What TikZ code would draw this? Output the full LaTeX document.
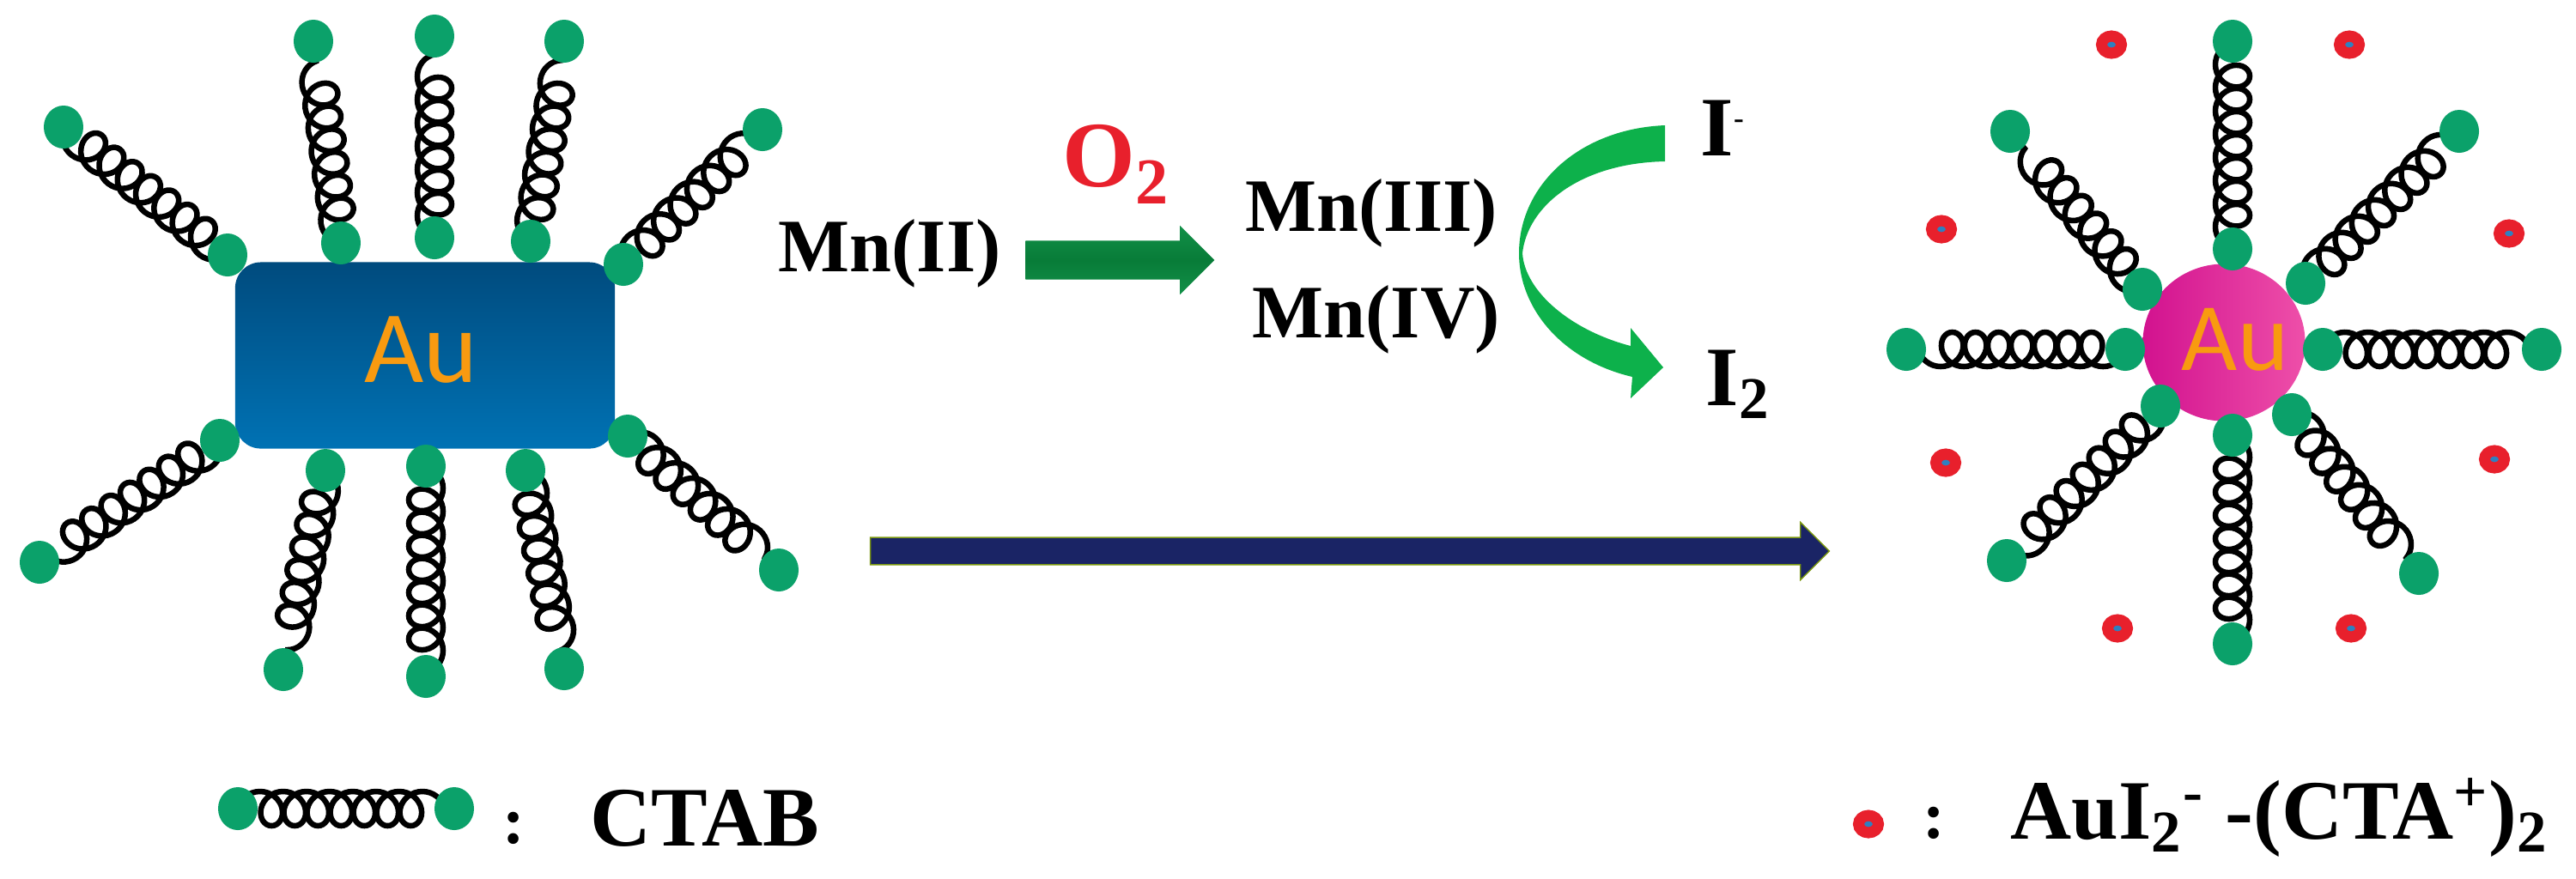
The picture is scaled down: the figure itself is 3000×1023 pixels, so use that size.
\documentclass[tikz,border=0pt]{standalone}
\usepackage{fontspec}
\usepackage{tikz}
\usetikzlibrary{backgrounds,decorations.pathmorphing,shapes.arrows,shapes.geometric}
\setmainfont{Liberation Serif}
\newfontfamily\aufont{Carlito}
\definecolor{headgreen}{HTML}{0BA16A}
\definecolor{rodtop}{HTML}{004B7E}
\definecolor{rodbottom}{HTML}{0072B4}
\definecolor{sphereleft}{HTML}{D2128F}
\definecolor{sphereright}{HTML}{EE4FA9}
\definecolor{ionred}{HTML}{E8202C}
\definecolor{ionblue}{HTML}{2F80C0}
\definecolor{autext}{HTML}{F89A10}
\definecolor{curvegreen}{HTML}{0DB14B}
\definecolor{mnedge}{HTML}{129048}
\definecolor{mncore}{HTML}{087C38}
\definecolor{navyarrow}{HTML}{1A2465}
\tikzset{
 head/.style = {ellipse, fill = headgreen, minimum width = 0.46cm, minimum height = 0.5cm, inner sep = 0pt},
 ion/.style = {ellipse, fill = ionblue, draw = ionred, line width = 0.13cm, minimum width = 0.23cm, minimum height = 0.2cm, inner sep = 0pt},
 tail/.style = {line width = 0.065cm, decorate, decoration = {coil, aspect = 0.95, segment length = 0.27cm, amplitude = 0.2cm}},
 chem/.style = {anchor = base west, inner sep = 0pt, font = \bfseries\fontsize{25}{30}\selectfont},
 bigchem/.style = {chem, font = \bfseries\fontsize{28}{34}\selectfont},
 aulabel/.style = {autext, inner sep = 0pt, font = \aufont\fontsize{34}{40}\selectfont}
}
\begin{document}
\begin{tikzpicture}[x=0.01cm, y=-0.01cm]
 \useasboundingbox (0,0) rectangle (3000,1023);
 % gold rod
 \node [rounded corners = 0.3cm, top color = rodtop, bottom color = rodbottom, minimum width = 4.42cm, minimum height = 2.17cm, inner sep = 0pt] (rod) at (495,414) {};
 \node [aulabel] (rodlabel) at (490,408) {Au};
 \node [head] (r1a) at (265,297) {};
 \node [head] (r1b) at (74,148) {};
 \node [head] (r2a) at (397,283) {};
 \node [head] (r2b) at (365,48) {};
 \node [head] (r3a) at (506,277) {};
 \node [head] (r3b) at (506,42) {};
 \node [head] (r4a) at (618,281) {};
 \node [head] (r4b) at (657,48) {};
 \node [head] (r5a) at (726,308) {};
 \node [head] (r5b) at (888,151) {};
 \node [head] (r6a) at (256,513) {};
 \node [head] (r6b) at (46,655) {};
 \node [head] (r7a) at (379,548) {};
 \node [head] (r7b) at (330,780) {};
 \node [head] (r8a) at (496,543) {};
 \node [head] (r8b) at (496,788) {};
 \node [head] (r9a) at (612,548) {};
 \node [head] (r9b) at (657,779) {};
 \node [head] (r10a) at (731,508) {};
 \node [head] (r10b) at (907,664) {};
 % gold sphere
 \node [ellipse, left color = sphereleft, right color = sphereright, minimum width = 1.89cm, minimum height = 1.83cm, inner sep = 0pt] (sphere) at (2590,399) {};
 \node [aulabel, font = \aufont\fontsize{32}{38}\selectfont] (spherelabel) at (2603,396) {Au};
 \node [head] (s1a) at (2600,290) {};
 \node [head] (s1b) at (2600,48) {};
 \node [head] (s2a) at (2495,337) {};
 \node [head] (s2b) at (2341,153) {};
 \node [head] (s3a) at (2685,330) {};
 \node [head] (s3b) at (2864,153) {};
 \node [head] (s4a) at (2475,407) {};
 \node [head] (s4b) at (2220,407) {};
 \node [head] (s5a) at (2705,407) {};
 \node [head] (s5b) at (2960,407) {};
 \node [head] (s6a) at (2516,473) {};
 \node [head] (s6b) at (2337,653) {};
 \node [head] (s7a) at (2600,507) {};
 \node [head] (s7b) at (2600,750) {};
 \node [head] (s8a) at (2669,483) {};
 \node [head] (s8b) at (2817,668) {};
 \node [ion] (i1) at (2459,52) {};
 \node [ion] (i2) at (2736,52) {};
 \node [ion] (i3) at (2261,267) {};
 \node [ion] (i4) at (2922,272) {};
 \node [ion] (i5) at (2266,539) {};
 \node [ion] (i6) at (2905,535) {};
 \node [ion] (i7) at (2466,732) {};
 \node [ion] (i8) at (2738,732) {};
 % reactions
 \node [chem] (mn2) at (906,316) {Mn(II)};
 \node [chem] (mn3) at (1450,269) {Mn(III)};
 \node [chem] (mn4) at (1458,393) {Mn(IV)};
 \node [chem, ionred, font = \bfseries\fontsize{31}{36}\selectfont] (oxygen) at (1237,217) {O\textsubscript{2}};
 \node [bigchem] (iodide) at (1980,181) {I\textsuperscript{\normalsize -}};
 \node [bigchem] (iodine) at (1986,472) {I\textsubscript{2}};
 \node [single arrow, single arrow head extend = 0.175cm, minimum height = 2.2cm, minimum width = 0.79cm, inner xsep = 0pt, inner ysep = 0.22cm, outer sep = 0pt, top color = mnedge, bottom color = mnedge, middle color = mncore] (mnarrow) at (1293,303) {};
 \fill [curvegreen] (1939,146) .. controls (1840,150) and (1769,215) .. (1769,295) .. controls (1769,360) and (1820,420) .. (1901,439) -- (1899,464) -- (1937,428) -- (1899,382) -- (1899,403) .. controls (1830,385) and (1776,340) .. (1773,295) .. controls (1779,240) and (1840,190) .. (1939,188) -- cycle;
 \node [single arrow, single arrow head extend = 0.175cm, minimum height = 11.16cm, minimum width = 0.67cm, inner xsep = 0pt, inner ysep = 0.15cm, outer sep = 0pt, fill = navyarrow, draw = olive!70!green, line width = 0.4pt] (mainarrow) at (1564,642) {};
 % legend
 \node [head] (keya) at (277,942) {};
 \node [head] (keyb) at (529,942) {};
 \node [chem, font = \bfseries\fontsize{22}{26}\selectfont] (keycolon) at (585,982) {:};
 \node [bigchem] (ctab) at (687,985) {CTAB};
 \node [ion] (keyion) at (2176,960) {};
 \node [chem, font = \bfseries\fontsize{22}{26}\selectfont] (ioncolon) at (2239,976) {:};
 \node [bigchem] (complex) at (2341,977) {AuI\textsubscript{2}\textsuperscript{-} -(CTA\textsuperscript{+})\textsubscript{2}};
 % surfactant tails behind the heads
 \begin{scope}[on background layer]
  \foreach \n in {1,...,10} \draw [tail] (r\n a.center) -- (r\n b.center);
  \foreach \n in {1,...,8} \draw [tail] (s\n a.center) -- (s\n b.center);
  \draw [tail] (keya.center) -- (keyb.center);
 \end{scope}
\end{tikzpicture}
\end{document}
